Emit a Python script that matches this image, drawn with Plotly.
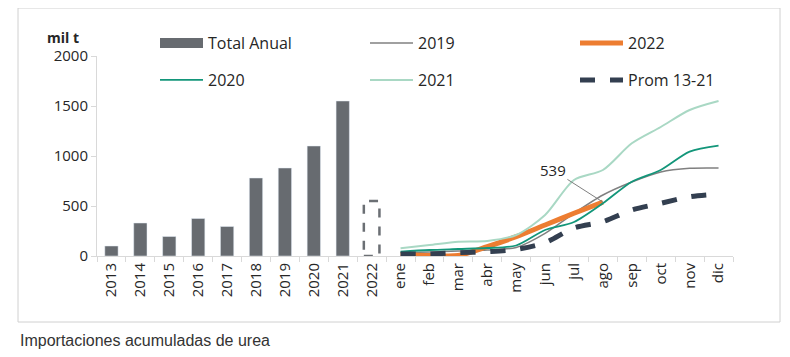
import plotly.graph_objects as go

years = ["2013", "2014", "2015", "2016", "2017", "2018", "2019", "2020", "2021"]
year_2022 = "2022"
totals = [100, 330, 195, 375, 295, 780, 880, 1100, 1550]
total_2022 = 550
months = ["ene", "feb", "mar", "abr", "may", "jun", "jul", "ago", "sep", "oct", "nov", "dic"]
s2019 = [33, 40, 50, 60, 85, 227, 427, 610, 740, 840, 877, 880]
s2020 = [43, 60, 70, 80, 105, 260, 340, 527, 743, 860, 1043, 1103]
s2021 = [77, 110, 143, 150, 210, 410, 760, 860, 1127, 1290, 1460, 1550]
s2022 = [15, 5, 5, 93, 193, 310, 427, 539]
prom = [20, 20, 33, 43, 65, 133, 280, 343, 460, 527, 593, 620]
label_value = "539"

cats = years + [year_2022] + months
FONT = "Open Sans"
TXT = "#262626"

fig = go.Figure()
fig.add_trace(go.Bar(x=years, y=totals, marker_color="#676b70", width=0.46,
                     showlegend=False, hoverinfo="x+y"))
# legend-only entry for bars (wide swatch)
fig.add_trace(go.Scatter(x=[None], y=[None], mode="lines", name="Total Anual",
                         line=dict(color="#676b70", width=10), legend="legend"))
fig.add_trace(go.Scatter(x=months, y=s2019, mode="lines", name="2019",
                         line=dict(color="#808080", width=1.5, shape="spline", smoothing=0.8),
                         legend="legend"))
fig.add_trace(go.Scatter(x=months[:len(s2022)], y=s2022, mode="lines", name="2022",
                         line=dict(color="#ed7d31", width=5, shape="spline", smoothing=0.8),
                         legend="legend"))
fig.add_trace(go.Scatter(x=months, y=s2020, mode="lines", name="2020",
                         line=dict(color="#13967a", width=1.8, shape="spline", smoothing=0.8),
                         legend="legend2"))
fig.add_trace(go.Scatter(x=months, y=s2021, mode="lines", name="2021",
                         line=dict(color="#a9d8c4", width=2, shape="spline", smoothing=0.8),
                         legend="legend2"))
fig.add_trace(go.Scatter(x=months, y=prom, mode="lines", name="Prom 13-21",
                         line=dict(color="#333f50", width=5, dash="dash", shape="spline", smoothing=0.8),
                         legend="legend2"))

i22 = cats.index(year_2022)
fig.add_shape(type="rect", xref="x", yref="y", x0=i22 - 0.27, x1=i22 + 0.27, y0=0, y1=total_2022,
              line=dict(color="#6b6f74", width=2.5, dash="dash"), fillcolor="rgba(0,0,0,0)", layer="above")

# page has an 8px body margin: work in screen pixels, shifted by OFF
OFF = 8
W, H = 790 - 2 * OFF, 357 - 2 * OFF
L, T = 97 - OFF, 56 - OFF
R = W - (733 - OFF)
B = H - (256 - OFF)
pw, ph = W - L - R, H - T - B
def px(xs):
    return (xs - OFF - L) / pw
def py(ys):
    return 1 - (ys - OFF - T) / ph

fig.add_shape(type="rect", xref="paper", yref="paper", x0=px(18), x1=px(780), y0=py(322), y1=py(8),
              line=dict(color="#d0d0d0", width=1), fillcolor="rgba(0,0,0,0)")

fig.add_annotation(x="ago", y=s2022[-1], xref="x", yref="y", text=label_value, showarrow=True,
                   arrowhead=0, arrowwidth=1, arrowcolor="#7f7f7f", ax=-50, ay=-32,
                   font=dict(family=FONT, size=15, color=TXT))
fig.add_annotation(xref="paper", yref="paper", x=px(63), y=py(37), xanchor="center", yanchor="middle",
                   text="<b>mil t</b>", showarrow=False, font=dict(family=FONT, size=14, color=TXT))
fig.add_annotation(xref="paper", yref="paper", x=px(18), y=py(340), xanchor="left", yanchor="middle",
                   text="Importaciones acumuladas de urea", showarrow=False,
                   font=dict(family="Liberation Sans", size=16, color="#333333"))

legend_common = dict(orientation="h", xanchor="left", yanchor="middle", entrywidth=152,
                     entrywidthmode="pixels", itemwidth=43, bgcolor="rgba(0,0,0,0)",
                     font=dict(family=FONT, size=16, color=TXT), tracegroupgap=0,
                     itemclick=False, itemdoubleclick=False)
fig.update_layout(
    width=W, height=H,
    margin=dict(l=L, r=R, t=T, b=B, autoexpand=False),
    paper_bgcolor="white", plot_bgcolor="white",
    font=dict(family=FONT, size=15, color=TXT),
    legend=dict(x=px(155), y=py(43), **legend_common),
    legend2=dict(x=px(155), y=py(80), **legend_common),
    xaxis=dict(type="category", categoryorder="array", categoryarray=cats, range=[-0.5, len(cats) - 0.5],
               tickangle=-90, showline=True, linecolor="#d9d9d9", linewidth=1, ticks="outside",
               tickson="boundaries", ticklen=5, tickcolor="#d9d9d9", showgrid=False, automargin=False,
               tickfont=dict(family=FONT, size=15, color=TXT)),
    yaxis=dict(range=[0, 2000], tickvals=[0, 500, 1000, 1500, 2000], showline=True, linecolor="#d9d9d9",
               linewidth=1, ticks="outside", ticklen=5, tickcolor="#d9d9d9", showgrid=False, automargin=False,
               zeroline=False, tickfont=dict(family=FONT, size=15, color=TXT)),
)
fig.write_html("out.html")
